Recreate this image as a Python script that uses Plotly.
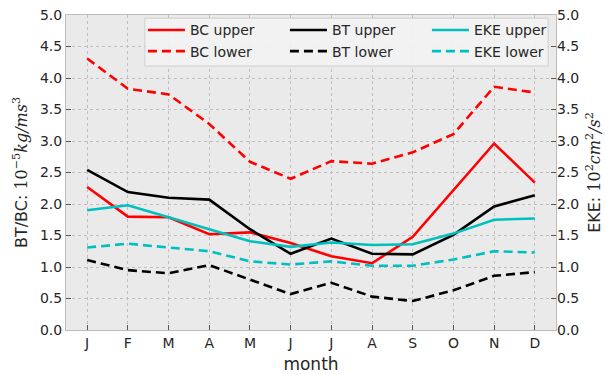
import plotly.graph_objects as go

months = ["J", "F", "M", "A", "M", "J", "J", "A", "S", "O", "N", "D"]
month_idx = list(range(12))

bc_upper = [2.27, 1.80, 1.79, 1.52, 1.55, 1.38, 1.17, 1.06, 1.48, 2.22, 2.96, 2.34]
bc_lower = [4.31, 3.83, 3.74, 3.27, 2.67, 2.40, 2.68, 2.64, 2.82, 3.11, 3.86, 3.77]
bt_upper = [2.54, 2.19, 2.10, 2.07, 1.60, 1.21, 1.45, 1.21, 1.20, 1.51, 1.96, 2.14]
bt_lower = [1.11, 0.95, 0.90, 1.03, 0.80, 0.57, 0.75, 0.53, 0.46, 0.63, 0.86, 0.92]
eke_upper = [1.90, 1.98, 1.79, 1.60, 1.41, 1.32, 1.39, 1.35, 1.36, 1.53, 1.75, 1.77]
eke_lower = [1.31, 1.37, 1.31, 1.25, 1.09, 1.04, 1.09, 1.02, 1.02, 1.12, 1.25, 1.23]

y_ticks = [0.0, 0.5, 1.0, 1.5, 2.0, 2.5, 3.0, 3.5, 4.0, 4.5, 5.0]

RED = "#FF0000"
BLACK = "#000000"
CYAN = "#00BFBF"
DASH = "9px,5px"
LW = 2.6

fig = go.Figure()
series = [
    ("BC upper", bc_upper, RED, "solid", "y"),
    ("BT upper", bt_upper, BLACK, "solid", "y"),
    ("EKE upper", eke_upper, CYAN, "solid", "y2"),
    ("BC lower", bc_lower, RED, DASH, "y"),
    ("BT lower", bt_lower, BLACK, DASH, "y"),
    ("EKE lower", eke_lower, CYAN, DASH, "y2"),
]
for name, vals, col, dash, ax in series:
    fig.add_trace(go.Scatter(
        x=month_idx, y=vals, name=name, mode="lines", yaxis=ax,
        line=dict(color=col, width=LW, dash=dash),
    ))

tick_font = dict(family="DejaVu Sans", size=14, color="#262626")
axis_common = dict(
    showline=True, linecolor="#BCBCBC", linewidth=1, mirror=True,
    showgrid=True, gridcolor="#BFBFBF", griddash="dot", gridwidth=1,
    zeroline=False, ticks="inside", ticklen=5, tickcolor="#555555",
    tickfont=tick_font,
)

# legend frame (drawn as a shape so the box can be sized like the reference)
fig.add_shape(
    type="rect", xref="paper", yref="paper",
    x0=0.161, x1=0.984, y0=0.838, y1=0.990,
    fillcolor="rgba(243,243,243,0.9)", line=dict(color="#CFCFCF", width=1),
    layer="above",
)

fig.update_layout(
    width=605, height=375,
    margin=dict(l=66, r=49, t=15, b=45),
    paper_bgcolor="white",
    plot_bgcolor="#EAEAEA",
    font=dict(family="DejaVu Sans", color="#262626"),
    xaxis=dict(
        range=[-0.52, 11.52], tickmode="array", tickvals=month_idx, ticktext=months,
        title=dict(text="month", font=dict(family="DejaVu Sans", size=17, color="#262626"), standoff=8),
        automargin=False, **axis_common,
    ),
    yaxis=dict(
        range=[0, 5], tickmode="array", tickvals=y_ticks,
        ticktext=[f"{v:.1f}" for v in y_ticks],
        title=dict(
            text="BT/BC: <span style='font-family:DejaVu Serif'>10<sup>−5</sup><i>kg/ms</i><sup>3</sup></span>",
            font=dict(family="DejaVu Sans", size=16, color="#262626"), standoff=8),
        automargin=False, **axis_common,
    ),
    yaxis2=dict(
        range=[0, 5], tickmode="array", tickvals=y_ticks,
        ticktext=[f"{v:.1f}" for v in y_ticks],
        overlaying="y", side="right", showgrid=False, showline=False,
        zeroline=False, ticks="inside", ticklen=5, tickcolor="#555555",
        tickfont=tick_font,
        title=dict(
            text="EKE: <span style='font-family:DejaVu Serif'>10<sup>2</sup><i>cm</i><sup>2</sup><i>/s</i><sup>2</sup></span>",
            font=dict(family="DejaVu Sans", size=16, color="#262626"), standoff=10),
        automargin=False,
    ),
    legend=dict(
        orientation="h", x=0.157, y=1.002, xanchor="left", yanchor="top",
        entrywidth=90, entrywidthmode="pixels",
        bgcolor="rgba(0,0,0,0)", borderwidth=0,
        font=dict(family="DejaVu Sans", size=14, color="#262626"),
        traceorder="normal", itemwidth=37,
    ),
    showlegend=True,
)

fig.write_html("out.html")
